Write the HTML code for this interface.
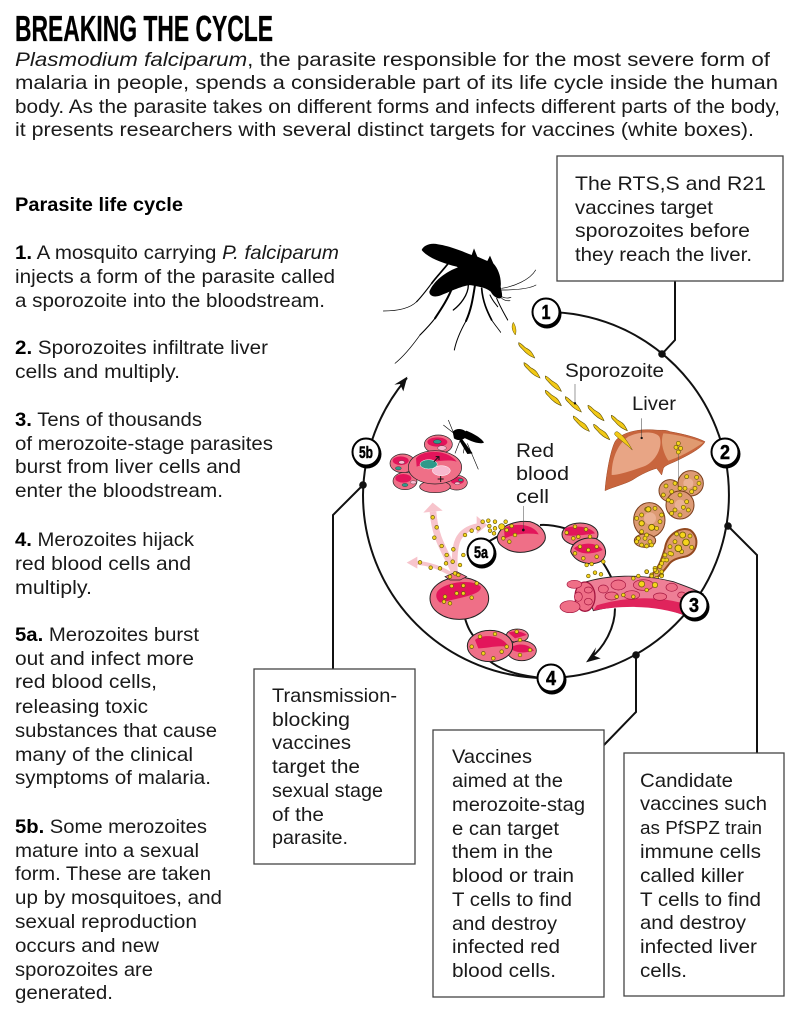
<!DOCTYPE html>
<html><head><meta charset="utf-8"><title>Breaking the cycle</title>
<style>
html,body{margin:0;padding:0;background:#fff}
svg{display:block}
text{font-family:"Liberation Sans",sans-serif;fill:#1a1a1a}
.t{font-size:19.5px}
.b{font-weight:bold;fill:#000}
.i{font-style:italic}
.n{font-weight:bold;font-size:20px;text-anchor:middle;fill:#000;stroke:#000;stroke-width:.5px}
</style></head><body>
<svg width="800" height="1016" viewBox="0 0 800 1016" xmlns="http://www.w3.org/2000/svg">
<defs>
<path id="spz" d="M-24,-22C-16,-20 -10,-12 -5,-8C2,-3 8,-2 14,6C18,12 22,18 24,24C14,20 6,16 0,10C-6,6 -8,2 -14,-4C-20,-10 -25,-14 -24,-22Z" fill="#f2c916" stroke="#5f5006" stroke-width="1.800"/>
<path id="d2" d="M278,232h0M290,262h0M283,293h0M305,318h0M320,345h0M340,328h0M338,365h0M318,370h0M300,385h0M272,383h0M240,367h0M345,400h0M330,410h0M355,405h0M370,345h0M360,375h0M375,285h0M395,272h0M415,265h0M428,245h0M445,242h0M448,258h0M465,245h0M465,265h0M450,272h0M462,280h0M497,245h0M500,270h0M508,305h0M525,285h0M490,295h0M515,258h0M335,438h0M370,437h0M410,430h0M350,460h0M315,470h0M395,473h0M330,490h0M312,485h0M370,460h0M680,278h0M705,260h0M738,268h0M700,295h0M715,290h0M750,290h0M720,320h0M745,330h0M770,320h0M705,340h0M730,355h0M770,350h0M740,375h0M755,372h0M790,365h0M745,408h0M765,398h0M783,403h0M920,395h0M945,390h0M965,395h0M935,408h0M965,408h0M880,415h0M895,408h0M850,465h0M830,470h0M880,470h0M920,450h0M395,620h0M420,590h0M465,582h0M500,620h0M430,640h0M460,655h0M485,635h0M530,575h0M540,600h0M570,630h0M540,645h0"/>
<path id="d4" d="M198,198h0M225,190h0M240,205h0M190,225h0M215,215h0M205,240h0M260,170h0M290,172h0M255,205h0M275,215h0M297,190h0M285,205h0M215,245h0M240,225h0M260,245h0M225,270h0M240,285h0M265,270h0M250,262h0M215,280h0M125,285h0M140,268h0M165,265h0M185,285h0M180,305h0M170,325h0M125,310h0M110,295h0M155,320h0M125,335h0M140,345h0M135,355h0M115,355h0M150,365h0M125,375h0M110,365h0M155,375h0M140,378h0M230,342h0M270,348h0M225,365h0M275,382h0M210,380h0M215,402h0M245,395h0M195,405h0M200,420h0M185,430h0M180,440h0M165,445h0M170,455h0M155,465h0M140,455h0M185,465h0M170,475h0M190,420h0M210,400h0M235,70h0M228,82h0M242,85h0M235,96h0"/>
</defs>

<!-- header -->
<text x="15" y="41" class="b" font-size="36" stroke="#000" stroke-width=".3" textLength="258" lengthAdjust="spacingAndGlyphs">BREAKING THE CYCLE</text>
<text x="15" y="66" class="t" textLength="755" lengthAdjust="spacingAndGlyphs"><tspan class="i">Plasmodium falciparum</tspan>, the parasite responsible for the most severe form of</text>
<text x="15" y="89" class="t" textLength="763" lengthAdjust="spacingAndGlyphs">malaria in people, spends a considerable part of its life cycle inside the human</text>
<text x="15" y="113" class="t" textLength="765" lengthAdjust="spacingAndGlyphs">body. As the parasite takes on different forms and infects different parts of the body,</text>
<text x="15" y="136" class="t" textLength="739" lengthAdjust="spacingAndGlyphs">it presents researchers with several distinct targets for vaccines (white boxes).</text>

<!-- left column -->
<text x="15" y="211" class="t b" textLength="168" lengthAdjust="spacingAndGlyphs">Parasite life cycle</text>
<text x="15" y="259" class="t" textLength="324" lengthAdjust="spacingAndGlyphs"><tspan class="b">1.</tspan> A mosquito carrying <tspan class="i">P. falciparum</tspan></text>
<text x="15" y="283" class="t" textLength="320" lengthAdjust="spacingAndGlyphs">injects a form of the parasite called</text>
<text x="15" y="307" class="t" textLength="310" lengthAdjust="spacingAndGlyphs">a sporozoite into the bloodstream.</text>
<text x="15" y="354" class="t" textLength="253" lengthAdjust="spacingAndGlyphs"><tspan class="b">2.</tspan> Sporozoites infiltrate liver</text>
<text x="15" y="378" class="t" textLength="165" lengthAdjust="spacingAndGlyphs">cells and multiply.</text>
<text x="15" y="426" class="t" textLength="187" lengthAdjust="spacingAndGlyphs"><tspan class="b">3.</tspan> Tens of thousands</text>
<text x="15" y="450" class="t" textLength="258" lengthAdjust="spacingAndGlyphs">of merozoite-stage parasites</text>
<text x="15" y="473" class="t" textLength="226" lengthAdjust="spacingAndGlyphs">burst from liver cells and</text>
<text x="15" y="497" class="t" textLength="208" lengthAdjust="spacingAndGlyphs">enter the bloodstream.</text>
<text x="15" y="546" class="t" textLength="179" lengthAdjust="spacingAndGlyphs"><tspan class="b">4.</tspan> Merozoites hijack</text>
<text x="15" y="570" class="t" textLength="176" lengthAdjust="spacingAndGlyphs">red blood cells and</text>
<text x="15" y="594" class="t" textLength="77" lengthAdjust="spacingAndGlyphs">multiply.</text>
<text x="15" y="641" class="t" textLength="184" lengthAdjust="spacingAndGlyphs"><tspan class="b">5a.</tspan> Merozoites burst</text>
<text x="15" y="665" class="t" textLength="179" lengthAdjust="spacingAndGlyphs">out and infect more</text>
<text x="15" y="688" class="t" textLength="142" lengthAdjust="spacingAndGlyphs">red blood cells,</text>
<text x="15" y="713" class="t" textLength="133" lengthAdjust="spacingAndGlyphs">releasing toxic</text>
<text x="15" y="737" class="t" textLength="202" lengthAdjust="spacingAndGlyphs">substances that cause</text>
<text x="15" y="761" class="t" textLength="178" lengthAdjust="spacingAndGlyphs">many of the clinical</text>
<text x="15" y="784" class="t" textLength="196" lengthAdjust="spacingAndGlyphs">symptoms of malaria.</text>
<text x="15" y="833" class="t" textLength="192" lengthAdjust="spacingAndGlyphs"><tspan class="b">5b.</tspan> Some merozoites</text>
<text x="15" y="857" class="t" textLength="184" lengthAdjust="spacingAndGlyphs">mature into a sexual</text>
<text x="15" y="880" class="t" textLength="196" lengthAdjust="spacingAndGlyphs">form. These are taken</text>
<text x="15" y="904" class="t" textLength="207" lengthAdjust="spacingAndGlyphs">up by mosquitoes, and</text>
<text x="15" y="928" class="t" textLength="182" lengthAdjust="spacingAndGlyphs">sexual reproduction</text>
<text x="15" y="952" class="t" textLength="144" lengthAdjust="spacingAndGlyphs">occurs and new</text>
<text x="15" y="976" class="t" textLength="138" lengthAdjust="spacingAndGlyphs">sporozoites are</text>
<text x="15" y="999" class="t" textLength="98" lengthAdjust="spacingAndGlyphs">generated.</text>

<!-- main ring -->
<path d="M546,312A183,183 0 0 1 546,678A183,183 0 0 1 363,495A183,183 0 0 1 407,378" fill="none" stroke="#111" stroke-width="2"/>

<!-- connectors -->
<g fill="none" stroke="#111" stroke-width="2">
<path d="M675,281V340L662,354"/>
<path d="M728,526L757,555V753"/>
<path d="M636,655V712L604,745"/>
<path d="M363,485L333,515V669"/>
</g>
<g fill="#111"><circle cx="662" cy="354" r="3.8"/><circle cx="728" cy="526" r="3.8"/><circle cx="636" cy="655" r="3.8"/><circle cx="363" cy="485" r="3.8"/></g>

<!-- white boxes -->
<g fill="#fff" stroke="#444" stroke-width="1.3">
<rect x="557" y="156" width="226" height="125"/>
<rect x="254" y="669" width="161" height="195"/>
<rect x="433" y="730" width="171" height="267"/>
<rect x="624" y="753" width="160" height="243"/>
</g>
<text x="575" y="190" class="t" textLength="191" lengthAdjust="spacingAndGlyphs">The RTS,S and R21</text>
<text x="575" y="214" class="t" textLength="138" lengthAdjust="spacingAndGlyphs">vaccines target</text>
<text x="575" y="237" class="t" textLength="175" lengthAdjust="spacingAndGlyphs">sporozoites before</text>
<text x="575" y="261" class="t" textLength="177" lengthAdjust="spacingAndGlyphs">they reach the liver.</text>

<text x="272" y="702" class="t" textLength="125" lengthAdjust="spacingAndGlyphs">Transmission-</text>
<text x="272" y="726" class="t" textLength="78" lengthAdjust="spacingAndGlyphs">blocking</text>
<text x="272" y="749" class="t" textLength="79" lengthAdjust="spacingAndGlyphs">vaccines</text>
<text x="272" y="773" class="t" textLength="88" lengthAdjust="spacingAndGlyphs">target the</text>
<text x="272" y="797" class="t" textLength="111" lengthAdjust="spacingAndGlyphs">sexual stage</text>
<text x="272" y="821" class="t" textLength="52" lengthAdjust="spacingAndGlyphs">of the</text>
<text x="272" y="844" class="t" textLength="76" lengthAdjust="spacingAndGlyphs">parasite.</text>

<text x="452" y="763" class="t" textLength="80" lengthAdjust="spacingAndGlyphs">Vaccines</text>
<text x="452" y="787" class="t" textLength="111" lengthAdjust="spacingAndGlyphs">aimed at the</text>
<text x="452" y="811" class="t" textLength="133" lengthAdjust="spacingAndGlyphs">merozoite-stag</text>
<text x="452" y="835" class="t" textLength="107" lengthAdjust="spacingAndGlyphs">e can target</text>
<text x="452" y="858" class="t" textLength="101" lengthAdjust="spacingAndGlyphs">them in the</text>
<text x="452" y="882" class="t" textLength="122" lengthAdjust="spacingAndGlyphs">blood or train</text>
<text x="452" y="906" class="t" textLength="120" lengthAdjust="spacingAndGlyphs">T cells to find</text>
<text x="452" y="930" class="t" textLength="105" lengthAdjust="spacingAndGlyphs">and destroy</text>
<text x="452" y="953" class="t" textLength="108" lengthAdjust="spacingAndGlyphs">infected red</text>
<text x="452" y="977" class="t" textLength="104" lengthAdjust="spacingAndGlyphs">blood cells.</text>

<text x="640" y="787" class="t" textLength="93" lengthAdjust="spacingAndGlyphs">Candidate</text>
<text x="640" y="810" class="t" textLength="127" lengthAdjust="spacingAndGlyphs">vaccines such</text>
<text x="640" y="834" class="t" textLength="122" lengthAdjust="spacingAndGlyphs" style="font-size:18.500px">as PfSPZ train</text>
<text x="640" y="858" class="t" textLength="121" lengthAdjust="spacingAndGlyphs">immune cells</text>
<text x="640" y="882" class="t" textLength="104" lengthAdjust="spacingAndGlyphs">called killer</text>
<text x="640" y="906" class="t" textLength="121" lengthAdjust="spacingAndGlyphs">T cells to find</text>
<text x="640" y="929" class="t" textLength="106" lengthAdjust="spacingAndGlyphs">and destroy</text>
<text x="640" y="953" class="t" textLength="117" lengthAdjust="spacingAndGlyphs">infected liver</text>
<text x="640" y="977" class="t" textLength="47" lengthAdjust="spacingAndGlyphs">cells.</text>

<!-- big mosquito -->
<g transform="translate(370,235) scale(.33333)">
  <g fill="#000">
    <path d="M155,45C160,32 180,22 205,28C240,33 280,50 305,60L312,40L322,65L352,78L360,62L370,85C385,100 395,130 392,155C395,170 398,180 395,188C385,195 370,185 362,170C345,155 320,155 300,150C285,120 270,100 260,95C220,85 175,70 155,45Z"/>
    <path d="M178,170C190,140 225,110 270,95L300,110L305,150C280,150 240,170 210,182C190,188 178,182 178,170Z"/>
  </g>
  <g fill="none" stroke="#000" stroke-linecap="round">
    <path stroke-width="5" d="M235,85C215,110 200,125 185,145"/>
    <path stroke-width="3.500" d="M185,145C170,165 155,185 140,200"/>
    <path stroke-width="2" d="M140,200C120,220 85,228 40,228"/>
    <path stroke-width="6" d="M250,150C235,190 215,220 195,250"/>
    <path stroke-width="3.500" d="M195,250C180,270 165,285 150,300"/>
    <path stroke-width="2" d="M150,300C125,335 100,365 75,385"/>
    <path stroke-width="6" d="M315,150C308,195 303,225 288,258"/>
    <path stroke-width="3" d="M288,258C270,290 258,320 253,345"/>
    <path stroke-width="4" d="M295,150C295,180 270,210 250,225"/>
    <path stroke-width="5" d="M335,160C338,200 352,230 365,255"/>
    <path stroke-width="2.500" d="M365,255C375,270 385,282 392,292"/>
    <path stroke-width="3" d="M360,180C368,198 378,208 383,215"/>
    <path stroke-width="3" d="M380,190C390,215 405,240 413,255"/>
    <path stroke-width="2" d="M395,160C430,155 480,135 497,105M395,165C440,165 480,160 498,150M395,185C405,190 415,190 423,187M395,190C403,196 412,198 420,197"/>
  </g>
  <path d="M430,262C438,275 440,288 436,300C428,290 422,275 430,262Z" fill="#f2c916" stroke="#5f5006" stroke-width="1.500"/>
</g>

<!-- sporozoites and labels' leader lines -->
<g transform="translate(360,230) scale(.33333)">
  <path d="M142,440L103,464L120,462L130,484Z" fill="#111"/>
  <use href="#spz" transform="translate(500,360)"/>
  <use href="#spz" transform="translate(516,420)"/>
  <use href="#spz" transform="translate(580,460)"/>
  <use href="#spz" transform="translate(580,503)"/>
  <use href="#spz" transform="translate(640,522)"/>
  <use href="#spz" transform="translate(664,580)"/>
  <use href="#spz" transform="translate(708,548)"/>
  <use href="#spz" transform="translate(725,605)"/>
  <use href="#spz" transform="translate(778,578)"/>
  <path d="M645,462V520" stroke="#333" stroke-width="1.500"/>
  <circle cx="645" cy="520" r="3.500" fill="#111"/>
</g>

<!-- liver and liver cells -->
<g transform="translate(600,420) scale(.33333)">
  <path d="M15,212C18,170 30,95 45,65C60,40 110,25 165,30C185,32 195,28 210,35C250,42 290,52 315,65C305,85 265,105 235,120C215,130 195,135 190,145L185,165L170,145C150,150 120,165 105,175C85,190 40,200 15,212Z" fill="#c8653d" stroke="#9c4a28" stroke-width="1.500"/>
  <path d="M35,165C35,120 50,75 85,50C115,35 165,32 178,50C190,75 170,125 130,140C100,150 60,165 35,165Z" fill="#e8a585"/>
  <path d="M190,40C225,42 280,55 310,68C285,85 245,110 205,122C190,100 180,65 190,40Z" fill="#e09a70"/>
  <path d="M52,35C68,45 82,62 97,90C82,75 62,62 45,45C42,40 45,35 52,35Z" fill="#f2c916" stroke="#5f5006" stroke-width="1.500"/>
  <path d="M125,-5V52" stroke="#333" stroke-width="1.500"/><circle cx="125" cy="54" r="3.500" fill="#111"/>
  <path d="M235,95V185" stroke="#555" stroke-width="1.500"/>
  <g fill="#dd9a74" stroke="#7a3f1d" stroke-width="3">
    <circle cx="210" cy="212" r="33"/>
    <circle cx="272" cy="190" r="38"/>
    <circle cx="240" cy="255" r="42"/>
    <ellipse cx="148" cy="300" rx="47" ry="52"/>
    <ellipse cx="135" cy="362" rx="32" ry="20"/>
  </g>
  <g fill="#eab194"><circle cx="265" cy="190" r="15"/><circle cx="240" cy="255" r="16"/><circle cx="150" cy="295" r="18"/></g>
  <path d="M150,470C180,440 185,415 195,385C200,345 240,318 270,330C300,350 295,400 255,410C230,415 215,420 205,435C190,455 175,470 165,478Z" fill="#dd9a74" stroke="#93491f" stroke-width="6"/>
  <use href="#d4" fill="none" stroke="#6b5a06" stroke-width="14" stroke-linecap="round"/>
  <use href="#d4" fill="none" stroke="#f5d41c" stroke-width="10" stroke-linecap="round"/>
  <g fill="#f5d41c" stroke="#6b5a06" stroke-width="2.500"><circle cx="248" cy="345" r="9"/><circle cx="258" cy="367" r="10"/><circle cx="235" cy="385" r="10"/><circle cx="155" cy="322" r="9"/><circle cx="125" cy="310" r="8"/><circle cx="145" cy="268" r="8"/></g>
</g>

<!-- sexual-stage cluster and small mosquito -->
<g transform="translate(380,410) scale(.33333)">
  <g stroke="#222" stroke-width="2" fill="#ef6f87">
    <ellipse cx="175" cy="103" rx="42" ry="28"/>
    <ellipse cx="68" cy="160" rx="38" ry="28"/>
    <ellipse cx="75" cy="213" rx="36" ry="26"/>
    <ellipse cx="230" cy="218" rx="32" ry="22"/>
    <ellipse cx="165" cy="230" rx="46" ry="18"/>
  </g>
  <g fill="#e3155b"><ellipse cx="172" cy="96" rx="30" ry="14"/><ellipse cx="62" cy="152" rx="24" ry="13"/><ellipse cx="70" cy="205" rx="24" ry="13"/><ellipse cx="232" cy="212" rx="20" ry="11"/></g>
  <g stroke="#222" stroke-width="1"><ellipse cx="172" cy="95" rx="12" ry="6" fill="#2e9a8a"/><ellipse cx="186" cy="114" rx="13" ry="7" fill="#f8b9cf"/><ellipse cx="55" cy="175" rx="9" ry="5" fill="#2e9a8a"/><ellipse cx="65" cy="157" rx="9" ry="5" fill="#f8b9cf"/><ellipse cx="75" cy="225" rx="9" ry="5" fill="#2e9a8a"/><ellipse cx="100" cy="217" rx="9" ry="5" fill="#f8b9cf"/><ellipse cx="242" cy="210" rx="7" ry="4" fill="#2e9a8a"/><ellipse cx="232" cy="220" rx="8" ry="4" fill="#f8b9cf"/></g>
  <ellipse cx="165" cy="172" rx="80" ry="50" fill="#ef6f87" stroke="#222" stroke-width="2"/>
  <path d="M108,145C125,120 200,115 230,155C215,148 160,150 110,170Z" fill="#e3155b"/>
  <ellipse cx="146" cy="163" rx="26" ry="14" fill="#2e9a8a" stroke="#fff" stroke-width="1.500"/>
  <ellipse cx="184" cy="182" rx="27" ry="15" fill="#f8b9cf" stroke="#fff" stroke-width="1.500"/>
  <path d="M162,155L176,140M167,140H177V150" fill="none" stroke="#111" stroke-width="3"/>
  <path d="M182,198V216M173,207H191" stroke="#111" stroke-width="3"/>
  <g fill="#000">
    <path d="M258,62C280,70 305,85 312,98C295,105 265,90 245,80Z"/>
    <path d="M218,65C230,52 255,55 262,72C258,90 235,95 222,85Z"/>
    <path d="M245,85L278,130L262,132L238,92Z"/>
  </g>
  <g fill="none" stroke="#000" stroke-width="1.800"><path d="M222,70L190,45M222,72L205,30M240,92L225,130M262,100L295,178M255,100L250,130"/></g>
</g>

<!-- lower illustration -->
<g transform="translate(340,440) scale(.33333)">
  <g fill="none" stroke="#f7c4cc">
    <path stroke-width="20" d="M345,400C320,340 285,300 279,215"/>
    <path stroke-width="17" d="M345,400C340,310 350,270 415,258"/>
    <path stroke-width="12" d="M345,410C300,380 260,370 225,368"/>
  </g>
  <g fill="#f7c4cc"><path d="M250,218L278,188L308,212Z"/><path d="M410,228L442,255L410,282Z"/><path d="M200,368L232,350V386Z"/></g>
  <g fill="none" stroke="#111" stroke-width="6">
    <path d="M590,712C530,705 480,690 445,660"/>
    <path d="M375,535C385,570 395,580 405,595"/>
    <path d="M445,305L490,280"/>
    <path d="M600,255C625,253 650,258 675,265"/>
    <path d="M790,370C800,385 808,400 815,415"/>
    <path d="M825,505C825,565 790,625 750,655"/>
  </g>
  <path d="M738,667L782,655L762,647L768,622Z" fill="#111"/>
  <!-- infected cell -->
  <ellipse cx="358" cy="475" rx="88" ry="63" fill="#ef6f87" stroke="#222" stroke-width="3"/>
  <path d="M292,455C312,425 400,415 422,440C428,462 370,472 300,488C288,478 286,465 292,455Z" fill="#e3155b"/>
  <path d="M315,410L350,395L380,410L360,420H330Z" fill="#ef6f87" stroke="#222" stroke-width="2"/>
  <!-- red blood cell -->
  <path d="M472,290C480,255 530,240 570,245C605,255 620,280 615,300C600,335 540,345 505,330C485,320 470,310 472,290Z" fill="#ef6f87" stroke="#222" stroke-width="3"/>
  <path d="M492,265C520,248 580,250 596,283C560,278 520,282 494,296Z" fill="#e3155b"/>
  <path d="M550,198V268" stroke="#444" stroke-width="1.500"/><circle cx="550" cy="270" r="4" fill="#111"/>
  <!-- upper-right infected cells -->
  <ellipse cx="720" cy="283" rx="54" ry="34" fill="#ef6f87" stroke="#222" stroke-width="3"/>
  <path d="M675,265C700,255 750,258 765,280C730,285 695,290 675,285Z" fill="#e3155b"/>
  <path d="M692,335C695,305 730,290 765,295C800,310 805,345 785,362C765,378 710,375 692,335Z" fill="#ef6f87" stroke="#222" stroke-width="3"/>
  <path d="M702,325C720,308 770,303 788,330C760,342 725,347 702,325Z" fill="#e3155b"/>
  <!-- vein -->
  <path d="M730,428C800,405 900,400 1000,425C1040,440 1070,450 1090,462L1040,528C950,490 850,490 760,512Z" fill="#ee7f96" stroke="#222" stroke-width="2.500"/>
  <path d="M770,496C850,472 950,464 1050,496L1040,528C950,495 850,495 760,512Z" fill="#e0245c"/>
  <ellipse cx="735" cy="470" rx="30" ry="44" fill="#ef6f87" stroke="#a3153f" stroke-width="4"/>
  <g fill="#ef6f87" stroke="#a3153f" stroke-width="2">
    <ellipse cx="703" cy="433" rx="22" ry="12"/>
    <ellipse cx="690" cy="500" rx="30" ry="18"/>
    <ellipse cx="835" cy="435" rx="22" ry="15"/>
    <ellipse cx="790" cy="447" rx="15" ry="12"/>
    <ellipse cx="815" cy="468" rx="20" ry="12"/>
    <ellipse cx="875" cy="465" rx="24" ry="13"/>
    <ellipse cx="910" cy="435" rx="30" ry="16"/>
    <ellipse cx="960" cy="470" rx="20" ry="11"/>
    <ellipse cx="995" cy="442" rx="17" ry="12"/>
    <ellipse cx="1025" cy="465" rx="12" ry="9"/>
    <ellipse cx="715" cy="470" rx="12" ry="14"/>
    <ellipse cx="745" cy="450" rx="12" ry="9"/>
    <ellipse cx="745" cy="485" rx="12" ry="10"/>
  </g>
  <!-- lower infected cells -->
  <ellipse cx="532" cy="587" rx="33" ry="20" fill="#ef6f87" stroke="#222" stroke-width="2.500"/>
  <ellipse cx="545" cy="632" rx="44" ry="30" fill="#ef6f87" stroke="#222" stroke-width="2.500"/>
  <path d="M510,625C530,608 565,610 582,632C555,640 530,640 510,625Z" fill="#e3155b"/>
  <path d="M505,578C520,572 545,572 560,585L525,595Z" fill="#e3155b"/>
  <ellipse cx="450" cy="618" rx="68" ry="47" fill="#ef6f87" stroke="#222" stroke-width="3"/>
  <path d="M405,600C425,580 490,585 505,620C470,615 440,625 415,625Z" fill="#e3155b"/>
  <!-- dots -->
  <use href="#d2" fill="none" stroke="#6b5a06" stroke-width="13" stroke-linecap="round"/>
  <use href="#d2" fill="none" stroke="#f5d41c" stroke-width="9" stroke-linecap="round"/>
  <g fill="#f5d41c" stroke="#6b5a06" stroke-width="2"><circle cx="485" cy="260" r="9"/><circle cx="905" cy="432" r="9"/><circle cx="945" cy="435" r="8"/></g>
</g>

<!-- labels -->
<text x="565" y="377" class="t" textLength="99" lengthAdjust="spacingAndGlyphs">Sporozoite</text>
<text x="632" y="410" class="t" textLength="44" lengthAdjust="spacingAndGlyphs">Liver</text>
<text x="516" y="457" class="t" textLength="38" lengthAdjust="spacingAndGlyphs">Red</text>
<text x="516" y="480" class="t" textLength="53" lengthAdjust="spacingAndGlyphs">blood</text>
<text x="516" y="503" class="t" textLength="33" lengthAdjust="spacingAndGlyphs">cell</text>

<!-- numbered markers -->
<g fill="#000">
<circle cx="547" cy="314" r="14.500"/><circle cx="726" cy="454" r="14.500"/><circle cx="695" cy="607" r="14.500"/><circle cx="552" cy="680" r="14.500"/><circle cx="482" cy="554" r="14.500"/><circle cx="367" cy="454" r="14.500"/>
</g>
<g fill="#fff" stroke="#000" stroke-width="2">
<circle cx="546" cy="312" r="13.500"/><circle cx="725" cy="452" r="13.500"/><circle cx="694" cy="605" r="13.500"/><circle cx="551" cy="678" r="13.500"/><circle cx="481" cy="552" r="13.500"/><circle cx="366" cy="452" r="13.500"/>
</g>
<text x="546" y="319" class="n" textLength="9" lengthAdjust="spacingAndGlyphs">1</text>
<text x="725" y="459" class="n" textLength="10" lengthAdjust="spacingAndGlyphs">2</text>
<text x="694" y="612" class="n" textLength="10" lengthAdjust="spacingAndGlyphs">3</text>
<text x="551" y="685" class="n" textLength="10" lengthAdjust="spacingAndGlyphs">4</text>
<text x="481" y="558" class="n" style="font-size:17px" textLength="14" lengthAdjust="spacingAndGlyphs">5a</text>
<text x="366" y="458" class="n" style="font-size:17px" textLength="14" lengthAdjust="spacingAndGlyphs">5b</text>
</svg>
</body></html>
